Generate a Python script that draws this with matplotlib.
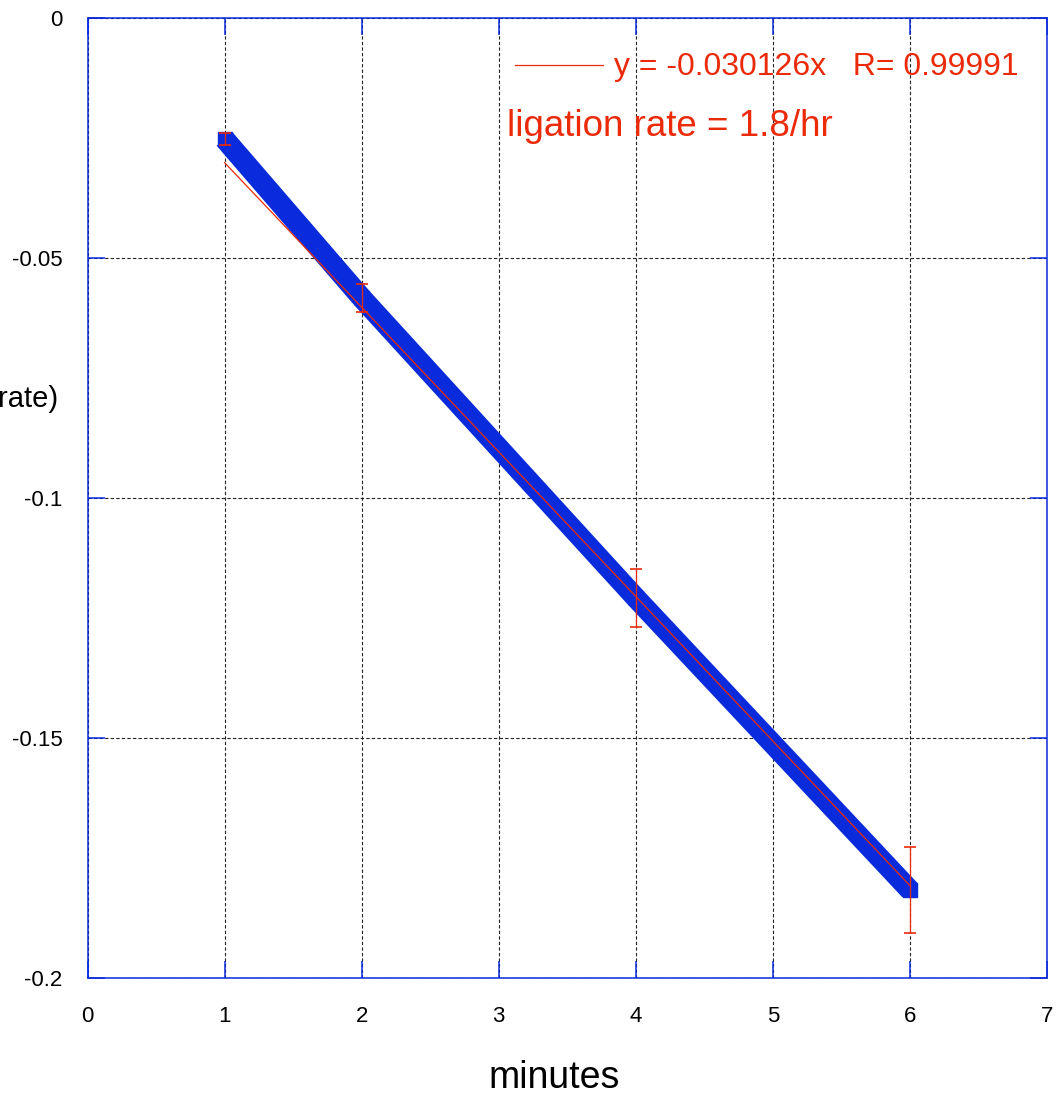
import matplotlib
matplotlib.use("Agg")
import matplotlib.pyplot as plt
from matplotlib.lines import Line2D

plt.rcParams['font.family'] = ['Liberation Sans', 'DejaVu Sans']

# data
minutes = [1, 2, 4, 6]
values = [-0.0252, -0.0583, -0.1208, -0.1817]
errors = [0.0013, 0.0029, 0.0060, 0.0090]
slope = -0.030126
fit_x = [1, 6]
fit_y = [slope * v for v in fit_x]
x_ticks = [0, 1, 2, 3, 4, 5, 6, 7]
x_tick_labels = ['0', '1', '2', '3', '4', '5', '6', '7']
y_ticks = [0, -0.05, -0.1, -0.15, -0.2]
y_tick_labels = ['0', '-0.05', '-0.1', '-0.15', '-0.2']
legend_text = "y = -0.030126x   R= 0.99991"
rate_text = "ligation rate = 1.8/hr"

BLUE = '#0a2bdc'
RED = '#ea2a08'

fig = plt.figure(figsize=(10.57, 10.94), dpi=100)
ax = fig.add_axes([87.5 / 1057, 1 - 978 / 1094, (1047 - 87.5) / 1057, (978 - 18) / 1094])

ax.plot(minutes, values, color=BLUE, lw=15, solid_capstyle='butt',
        marker='s', ms=10, mec=BLUE, mfc=BLUE, zorder=3)
ax.plot(fit_x, fit_y, color=RED, lw=0.9, zorder=4)
ax.errorbar(minutes, values, yerr=errors, fmt='none', ecolor=RED,
            elinewidth=0.9, capsize=4, capthick=1.2, zorder=5)

ax.set_xlim(0, 7)
ax.set_ylim(-0.2, 0)
ax.set_xticks(x_ticks)
ax.set_xticklabels(x_tick_labels)
ax.set_yticks(y_ticks)
ax.set_yticklabels(y_tick_labels)

ax.grid(True, color='#222222', linestyle=(0, (3, 2)), lw=0.8)
ax.set_axisbelow(True)
for s in ax.spines.values():
    s.set_color(BLUE)
    s.set_linewidth(1.1)
ax.tick_params(axis='both', direction='in', length=12, width=1.1, color=BLUE,
               top=True, right=True, labelsize=16, labelcolor='black')
ax.tick_params(axis='x', pad=20)
ax.tick_params(axis='y', pad=18)

ax.set_xlabel('minutes', fontsize=27)
ax.xaxis.set_label_coords((554 - 87.5) / 959.5, -0.085)

fig.text(58 / 1057, 1 - 399 / 1094, 'rate)', fontsize=21, ha='right', va='center')

# legend
ax.add_line(Line2D([(515 - 87.5) / 959.5, (603 - 87.5) / 959.5],
                   [1 - (65 - 18) / 960] * 2, transform=ax.transAxes,
                   color=RED, lw=0.9))
ax.text((614 - 87.5) / 959.5, 1 - (67 - 18) / 960, legend_text,
        transform=ax.transAxes, color=RED, fontsize=23, ha='left', va='center')
ax.text((507 - 87.5) / 959.5, 1 - (126 - 18) / 960, rate_text,
        transform=ax.transAxes, color=RED, fontsize=26.5, ha='left', va='center')

fig.savefig('out.png', dpi=100)
